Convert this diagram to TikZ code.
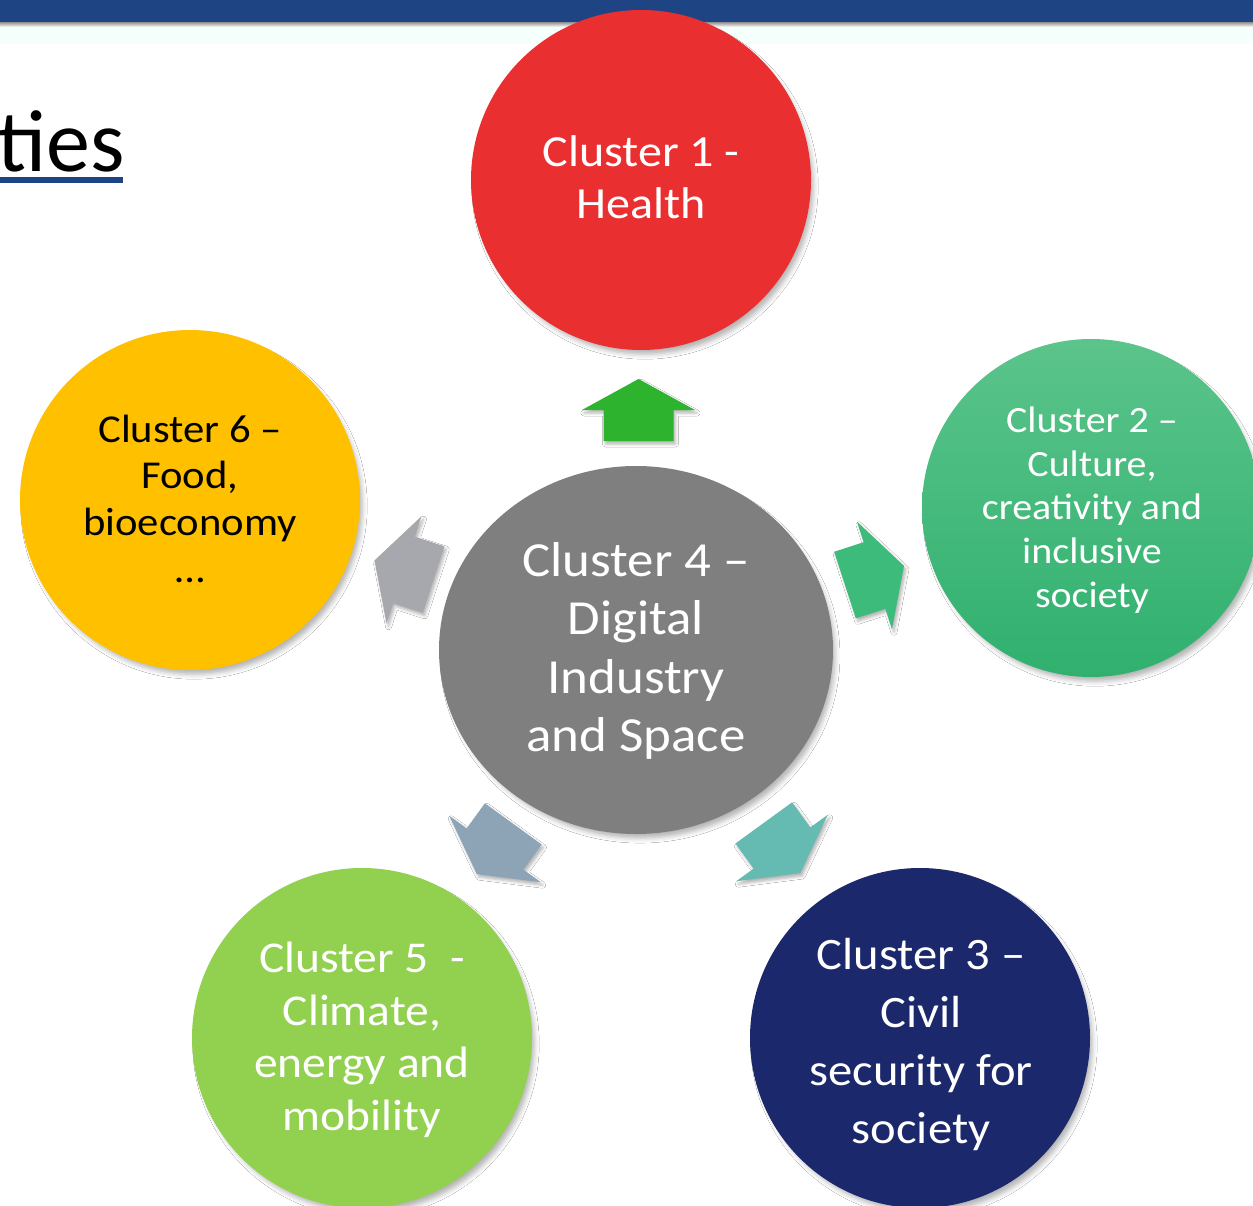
\documentclass[tikz,border=0pt]{standalone}
\usepackage{fontspec}
\setmainfont{Carlito}[FakeStretch=1.08]
\newfontfamily\titlefont{Carlito}
\usetikzlibrary{shadows.blur,shapes.geometric}
\definecolor{barblue}{HTML}{1F4483}
\definecolor{cred}{HTML}{EA2F31}
\definecolor{cgreentop}{HTML}{5BC48B}
\definecolor{cgreenbot}{HTML}{30B06E}
\definecolor{cnavy}{HTML}{1B286B}
\definecolor{clime}{HTML}{92D050}
\definecolor{cyellow}{HTML}{FFC000}
\definecolor{cgray}{HTML}{7F7F7F}
\definecolor{aup}{HTML}{2DB32D}
\definecolor{aright}{HTML}{3DBB7A}
\definecolor{abr}{HTML}{65BAB1}
\definecolor{abl}{HTML}{8DA4B7}
\definecolor{aleft}{HTML}{A6A8AD}
\tikzset{
  softshadow/.style={blur shadow={shadow xshift=4pt, shadow yshift=-6pt, shadow scale=0.99, shadow blur radius=5pt, shadow opacity=30}},
  clus/.style={circle, inner sep=0pt, minimum size=340, softshadow},
  ctext/.style={inner sep=0pt, align=center, text=white},
  blockarr/.pic={
    \fill[pic actions, blur shadow={shadow xshift=2pt, shadow yshift=-3pt, shadow blur radius=3pt, shadow opacity=30}]
      (0,31) -- (56.5,0) -- (35,0) -- (35,-31) -- (-35,-31) -- (-35,0) -- (-56.5,0) -- cycle;}
}
\begin{document}
\begin{tikzpicture}[x=1pt,y=1pt]
\useasboundingbox (0,0) rectangle (1253,-1206);
\fill[white] (0,0) rectangle (1253,-1206);
% top bar
\fill[barblue] (0,0) rectangle (1253,-23);
\shade[top color=black!35, bottom color=white] (0,-23) rectangle (1253,-27);
\fill[green!30!cyan!4] (0,-27) rectangle (1253,-44);
% title fragment
\node[anchor=base west, inner sep=0pt, font=\titlefont\fontsize{88}{100}\selectfont] (title) at (-3,-172) {ties};
\fill[barblue] (0,-177) rectangle (123,-183);

% arrows
\pic[fill=aup] at (638.5,-410) {blockarr};
\pic[fill=aright, rotate=-72] at (874.5,-575.5) {blockarr};
\pic[fill=abr, rotate=-144] at (782,-848) {blockarr};
\pic[fill=abl, rotate=144] at (495,-849) {blockarr};
\pic[fill=aleft, rotate=72] at (404,-570) {blockarr};

% circles
\node[clus, fill=cred] (c1) at (641,-180) {};
\node[clus, top color=cgreentop, bottom color=cgreenbot, minimum size=338] (c2) at (1091,-508) {};
\node[clus, fill=cnavy] (c3) at (920,-1038) {};
\node[clus, fill=clime] (c5) at (362,-1038) {};
\node[clus, fill=cyellow] (c6) at (190,-500) {};
\node[ellipse, inner sep=0pt, minimum width=394, minimum height=368, fill=cgray, softshadow] (c4) at (636,-650) {};

% texts
\node[ctext, font=\fontsize{44.5}{52}\selectfont] (t1) at ([yshift=2.5]c1.center) {Cluster 1 -\\Health};
\node[ctext, font=\fontsize{37}{43.7}\selectfont] (t2) at ([xshift=1,yshift=-2]c2.center) {Cluster 2 –\\Culture,\\creativity and\\inclusive\\society};
\node[ctext, font=\fontsize{49}{58.3}\selectfont] (t4) at ([yshift=-1]c4.center) {Cluster 4 –\\Digital\\Industry\\and Space};
\node[ctext, font=\fontsize{44}{52.5}\selectfont] (t5) at ([yshift=-2]c5.center) {Cluster 5~~-\\Climate,\\energy and\\mobility};
\node[ctext, font=\fontsize{45}{58}\selectfont] (t3) at ([xshift=1,yshift=-6.5]c3.center) {Cluster 3 –\\Civil\\security for\\society};
\node[ctext, text=black, font=\fontsize{39.5}{46.7}\selectfont] (t6) at ([yshift=1.5]c6.center) {Cluster 6 –\\Food,\\bioeconomy\\…};
\end{tikzpicture}
\end{document}
